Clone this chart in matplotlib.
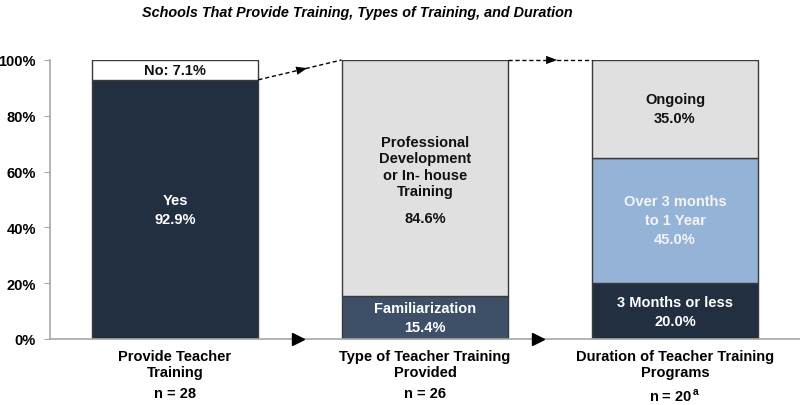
import numpy as np
import matplotlib.pyplot as plt
from matplotlib.ticker import PercentFormatter

plt.rcParams["font.family"] = ["Liberation Sans", "DejaVu Sans"]
plt.rcParams["font.weight"] = "bold"

title = "Schools That Provide Training, Types of Training, and Duration"
groups = ["Provide Teacher\nTraining", "Type of Teacher Training\nProvided",
          "Duration of Teacher Training\nPrograms"]
n_labels = ["n = 28", "n = 26", "n = 20$^{\\,\\mathregular{a}}$"]

# stacked segments, bottom to top, per bar
seg_values = [
    [92.9, 7.1],
    [15.4, 84.6],
    [20.0, 45.0, 35.0],
]
seg_names = [
    ["Yes", "No:"],
    ["Familiarization", "Professional\nDevelopment\nor In- house\nTraining"],
    ["3 Months or less", "Over 3 months\nto 1 Year", "Ongoing"],
]
seg_colors = [
    ["#222f40", "#ffffff"],
    ["#3d5068", "#e0e0e0"],
    ["#222f40", "#95b3d7", "#e0e0e0"],
]
text_colors = [
    ["white", "#111111"],
    ["white", "#111111"],
    ["white", "#f4f4f4", "#111111"],
]

FS = 10.5
fig = plt.figure(figsize=(8, 4.06), dpi=100)
ax = fig.add_axes([0.0625, 0.1626, 0.9375, 0.6872])

width = 0.667
x = np.arange(len(groups))
for i in range(len(groups)):
    bottom = 0
    for v, name, c, tc in zip(seg_values[i], seg_names[i], seg_colors[i], text_colors[i]):
        ax.bar(x[i], v, width, bottom=bottom, color=c, edgecolor="#3a3a3a",
               linewidth=1.0, zorder=2)
        mid = bottom + v / 2
        pct = f"{v:.1f}%"
        if name.endswith(":"):
            ax.text(x[i], mid, f"{name} {pct}", ha="center", va="center",
                    color=tc, fontsize=FS, fontweight="bold", zorder=3)
        elif name.count("\n") >= 3:
            # long label: text block above, percentage set apart below
            ax.text(x[i], mid + 4.1, name, ha="center", va="center", color=tc,
                    fontsize=FS, fontweight="bold", linespacing=1.2, zorder=3)
            ax.text(x[i], mid - 14.3, pct, ha="center", va="center", color=tc,
                    fontsize=FS, fontweight="bold", zorder=3)
        else:
            ax.text(x[i], mid, f"{name}\n{pct}", ha="center", va="center",
                    color=tc, fontsize=FS, fontweight="bold", linespacing=1.45,
                    zorder=3)
        bottom += v

# dashed connectors between bars
left_edges = x - width / 2
right_edges = x + width / 2
conn = [
    (right_edges[0], seg_values[0][0], left_edges[1], 100),
    (right_edges[1], 100, left_edges[2], 100),
]
for x0, y0, x1, y1 in conn:
    ax.plot([x0, x1], [y0, y1], ls=(0, (3, 2)), color="black", lw=1.0,
            clip_on=False, zorder=4)
    slope = (y1 - y0) / (x1 - x0)
    xm, ym = (x0 + x1) / 2, (y0 + y1) / 2
    ax.annotate("", xy=(xm + 0.04, ym + 0.04 * slope),
                xytext=(xm - 0.01, ym - 0.01 * slope),
                arrowprops=dict(arrowstyle="-|>,head_length=0.8,head_width=0.3",
                                color="black", lw=0), annotation_clip=False, zorder=5)

# arrowheads on the baseline
for xa in [0.49, 1.45]:
    ax.plot(xa, 0, marker=">", color="black", markersize=8, clip_on=False, zorder=5)

ax.set_xlim(-0.5, 2.5)
ax.set_ylim(0, 100)
ax.set_yticks(np.arange(0, 101, 20))
ax.yaxis.set_major_formatter(PercentFormatter(decimals=0))
ax.set_xticks([])
for s in ["top", "right"]:
    ax.spines[s].set_visible(False)
for s in ["left", "bottom"]:
    ax.spines[s].set_color("#a6a6a6")
    ax.spines[s].set_linewidth(1.2)
ax.tick_params(axis="y", length=4, color="#a6a6a6", labelsize=FS, pad=6)
for t in ax.get_yticklabels():
    t.set_fontweight("bold")

for i, g in enumerate(groups):
    ax.text(x[i], -3.6, g, ha="center", va="top", fontsize=FS,
            fontweight="bold", linespacing=1.15)
    ax.text(x[i], -17.0, n_labels[i], ha="center", va="top", fontsize=FS,
            fontweight="bold")

fig.text(0.447, 0.968, title, ha="center", va="center", fontsize=10.4,
         fontweight="bold", fontstyle="italic")

fig.savefig("out.png", dpi=100)
